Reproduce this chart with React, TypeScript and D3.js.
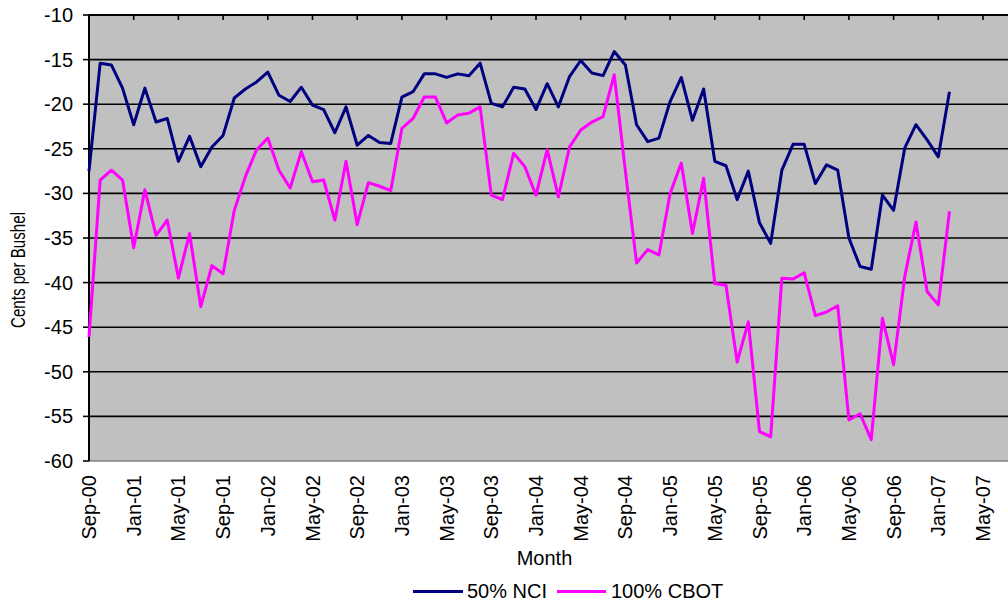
import React from "react";
import * as d3 from "d3";

// ---- data ----
const startMonth = "Sep-00"; // first data month (index 0)
const tickLabels = [
  "Sep-00", "Jan-01", "May-01", "Sep-01", "Jan-02", "May-02", "Sep-02",
  "Jan-03", "May-03", "Sep-03", "Jan-04", "May-04", "Sep-04", "Jan-05",
  "May-05", "Sep-05", "Jan-06", "May-06", "Sep-06", "Jan-07", "May-07",
];
const yTicks = [-10, -15, -20, -25, -30, -35, -40, -45, -50, -55, -60];

const nci50 = [
  -27.5, -15.4, -15.6, -18.2, -22.3, -18.2, -22.0, -21.6, -26.4, -23.6,
  -27.0, -24.8, -23.5, -19.3, -18.3, -17.5, -16.4, -19.0, -19.7, -18.1,
  -20.1, -20.6, -23.2, -20.3, -24.6, -23.5, -24.3, -24.4, -19.2, -18.6,
  -16.6, -16.6, -17.0, -16.6, -16.8, -15.4, -19.9, -20.3, -18.1, -18.3,
  -20.6, -17.7, -20.3, -16.9, -15.1, -16.5, -16.8, -14.1, -15.6, -22.3,
  -24.2, -23.8, -19.7, -17.0, -21.8, -18.3, -26.4, -26.9, -30.7, -27.5,
  -33.3, -35.6, -27.4, -24.5, -24.5, -28.9, -26.8, -27.4, -35.0, -38.2,
  -38.5, -30.2, -31.9, -24.9, -22.3, -24.0, -25.9, -18.6,
];
const cbot100 = [
  -46.1, -28.5, -27.4, -28.5, -36.1, -29.6, -34.7, -33.0, -39.5, -34.5,
  -42.7, -38.1, -39.0, -31.9, -28.1, -25.1, -23.8, -27.4, -29.4, -25.3,
  -28.7, -28.5, -33.0, -26.4, -33.5, -28.8, -29.2, -29.7, -22.7, -21.6,
  -19.2, -19.2, -22.1, -21.2, -21.0, -20.3, -30.2, -30.7, -25.5, -27.0,
  -30.2, -25.1, -30.4, -24.8, -22.9, -22.0, -21.4, -16.7, -27.5, -37.8,
  -36.3, -36.9, -30.0, -26.6, -34.5, -28.3, -40.1, -40.3, -48.9, -44.4,
  -56.7, -57.3, -39.5, -39.6, -38.9, -43.7, -43.3, -42.6, -55.4, -54.7,
  -57.6, -44.0, -49.2, -39.3, -33.2, -41.0, -42.5, -32.0,
];
const seriesNames = ["50% NCI", "100% CBOT"];
const seriesColors = ["#000080", "#FF00FF"];

const W = 1008;
const H = 603;
const plot = { left: 89, top: 15, right: 1010, bottom: 461 };
const monthsPerTick = 4;

export default function App() {
  const x = d3
    .scaleLinear()
    .domain([0, (tickLabels.length - 1) * monthsPerTick])
    .range([plot.left, 983]);
  const y = d3.scaleLinear().domain([-10, -60]).range([plot.top, plot.bottom]);

  const line = d3
    .line<number>()
    .x((_, i) => x(i))
    .y((d) => y(d));

  const font = "Arial, 'Liberation Sans', sans-serif";
  const series = [nci50, cbot100];

  return (
    <svg
      width={W}
      height={H}
      style={{ position: "absolute", left: 0, top: 0, background: "#fff" }}
      fontFamily={font}
    >
      <rect
        x={plot.left}
        y={plot.top}
        width={plot.right - plot.left}
        height={plot.bottom - plot.top}
        fill="#C0C0C0"
      />
      {/* gridlines */}
      {yTicks.map((t) => (
        <line
          key={t}
          x1={plot.left}
          x2={plot.right}
          y1={y(t)}
          y2={y(t)}
          stroke={t === -60 ? "#808080" : "#000"}
          strokeWidth={1.6}
        />
      ))}
      {/* y axis */}
      <line x1={plot.left} x2={plot.left} y1={plot.top} y2={plot.bottom} stroke="#000" strokeWidth={2} />
      {yTicks.map((t) => (
        <g key={"yt" + t}>
          <line x1={plot.left - 6} x2={plot.left} y1={y(t)} y2={y(t)} stroke="#000" strokeWidth={1.6} />
          <text x={73} y={y(t)} dy="0.35em" textAnchor="end" fontSize={20} fill="#000">
            {t}
          </text>
        </g>
      ))}
      {/* x axis at top (crosses at max) */}
      <line x1={plot.left} x2={plot.right} y1={plot.top} y2={plot.top} stroke="#000" strokeWidth={2} />
      {tickLabels.map((lab, k) => {
        const xx = x(k * monthsPerTick);
        return (
          <g key={lab}>
            <line x1={xx} x2={xx} y1={plot.top} y2={plot.top + 5} stroke="#000" strokeWidth={1.6} />
            <text
              transform={`translate(${xx},475) rotate(-90)`}
              dy="0.35em"
              textAnchor="end"
              fontSize={20}
              fill="#000"
            >
              {lab}
            </text>
          </g>
        );
      })}
      {/* series */}
      {series.map((s, si) => (
        <path
          key={seriesNames[si]}
          d={line(s) || ""}
          fill="none"
          stroke={seriesColors[si]}
          strokeWidth={3}
          strokeLinejoin="round"
        />
      ))}
      {/* axis titles */}
      <text
        transform="translate(25,270) rotate(-90)"
        textAnchor="middle"
        fontSize={20}
        textLength={116}
        lengthAdjust="spacingAndGlyphs"
        fill="#000"
      >
        Cents per Bushel
      </text>
      <text x={544.5} y={565} textAnchor="middle" fontSize={20} fill="#000">
        Month
      </text>
      {/* legend */}
      <line x1={413} x2={463} y1={591.5} y2={591.5} stroke={seriesColors[0]} strokeWidth={3} />
      <text x={467} y={598} fontSize={20} fill="#000">{seriesNames[0]}</text>
      <line x1={557} x2={606} y1={591.5} y2={591.5} stroke={seriesColors[1]} strokeWidth={3} />
      <text x={611} y={598} fontSize={20} fill="#000">{seriesNames[1]}</text>
    </svg>
  );
}
